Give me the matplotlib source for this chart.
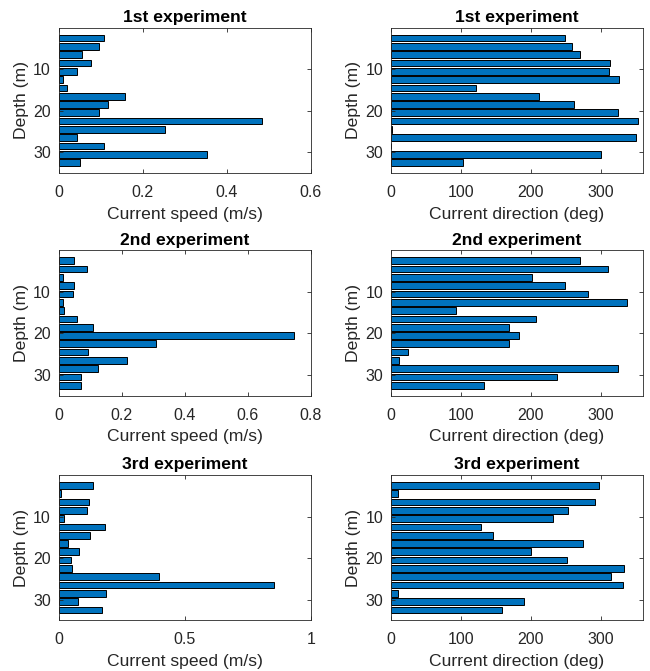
import numpy as np
import matplotlib
matplotlib.use("Agg")
import matplotlib.pyplot as plt

plt.rcParams['font.family'] = ['Liberation Sans', 'DejaVu Sans']

depth = np.arange(2.5, 33, 2.0)  # 16 bins, 2 m spacing

titles = ["1st experiment", "2nd experiment", "3rd experiment"]

speed_1 = [0.107, 0.097, 0.056, 0.078, 0.045, 0.011, 0.021, 0.157,
           0.117, 0.097, 0.483, 0.252, 0.045, 0.107, 0.352, 0.050]
dir_1 = [249, 259, 270, 313, 311, 326, 122, 212,
         262, 324, 353, 1.5, 350, 0, 300, 103]

speed_2 = [0.050, 0.089, 0.015, 0.050, 0.047, 0.014, 0.018, 0.060,
           0.108, 0.746, 0.310, 0.094, 0.218, 0.126, 0.072, 0.072]
dir_2 = [270, 310, 201, 248, 282, 337, 93, 208,
         169, 183, 169, 25, 11.5, 325, 238, 133]

speed_3 = [0.138, 0.009, 0.120, 0.111, 0.022, 0.185, 0.123, 0.038,
           0.083, 0.048, 0.053, 0.397, 0.853, 0.188, 0.078, 0.173]
dir_3 = [297, 10, 292, 253, 232, 129, 146, 275,
         200, 251, 333, 315, 332, 10, 190, 159]

speeds = [speed_1, speed_2, speed_3]
dirs = [dir_1, dir_2, dir_3]
speed_lims = [(0, 0.6), (0, 0.8), (0, 1.0)]
speed_ticks = [[0, 0.2, 0.4, 0.6], [0, 0.2, 0.4, 0.6, 0.8], [0, 0.5, 1]]
speed_ticklabels = [["0", "0.2", "0.4", "0.6"],
                    ["0", "0.2", "0.4", "0.6", "0.8"],
                    ["0", "0.5", "1"]]

BAR = "#0072BD"
INK = "#262626"
W, H = 650, 671
TICK_FS = 11.5
LABEL_FS = 12.6

fig = plt.figure(figsize=(W / 100, H / 100), dpi=100)

col_x = [(58.5, 311.0), (390.7, 643.0)]
row_y = [(27.7, 173.0), (250.4, 395.7), (475.0, 620.3)]


def make_ax(x0, x1, y0, y1):
    return fig.add_axes([x0 / W, 1 - y1 / H, (x1 - x0) / W, (y1 - y0) / H])


def style(ax):
    ax.set_ylim(35, 0)
    ax.set_yticks([10, 20, 30])
    ax.tick_params(direction='in', top=True, right=True, length=3,
                   width=0.6, colors=INK, labelsize=TICK_FS)
    ax.tick_params(axis='x', pad=8.5)
    ax.tick_params(axis='y', pad=5.5)
    for s in ax.spines.values():
        s.set_color(INK)
        s.set_linewidth(0.6)
    ax.set_ylabel("Depth (m)", fontsize=LABEL_FS, color=INK, labelpad=3)
    ax.set_axisbelow(False)


for r in range(3):
    ax = make_ax(*col_x[0], *row_y[r])
    ax.barh(depth, speeds[r], height=1.6, color=BAR, edgecolor="black",
            linewidth=0.7)
    ax.set_xlim(*speed_lims[r])
    ax.set_xticks(speed_ticks[r])
    ax.set_xticklabels(speed_ticklabels[r])
    style(ax)
    ax.set_xlabel("Current speed (m/s)", fontsize=LABEL_FS, color=INK,
                  labelpad=5)
    ax.set_title(titles[r], fontsize=LABEL_FS, fontweight='bold', pad=4)

    ax2 = make_ax(*col_x[1], *row_y[r])
    ax2.barh(depth, dirs[r], height=1.6, color=BAR, edgecolor="black",
             linewidth=0.7)
    ax2.set_xlim(0, 360)
    ax2.set_xticks([0, 100, 200, 300])
    style(ax2)
    ax2.set_xlabel("Current direction (deg)", fontsize=LABEL_FS, color=INK,
                   labelpad=5)
    ax2.set_title(titles[r], fontsize=LABEL_FS, fontweight='bold', pad=4)

fig.savefig("out.png", dpi=100, facecolor="white")
